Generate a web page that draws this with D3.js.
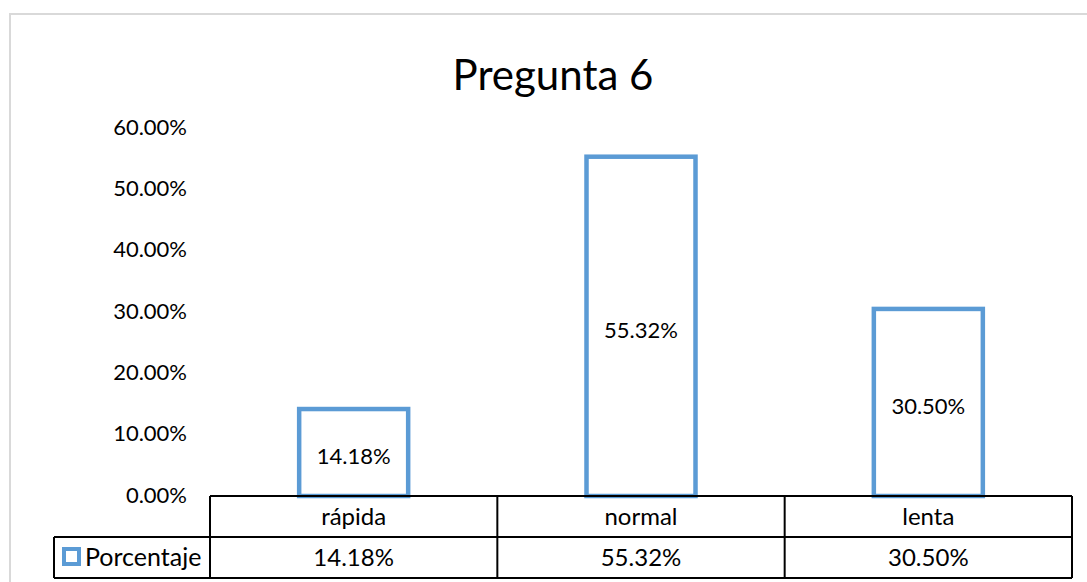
<!DOCTYPE html>
<html>
<head>
<meta charset="utf-8">
<title>Pregunta 6</title>
<script src="https://d3js.org/d3.v7.min.js"></script>
<style>
  body { margin: 0; background: #fff; }
  text { font-family: Lato, "Open Sans", sans-serif; fill: #000; }
</style>
</head>
<body>
<svg id="chart" width="1087" height="582"></svg>
<script>
var categories = ["rápida", "normal", "lenta"];
var values = [14.18, 55.32, 30.50];
var yTicks = [0, 10, 20, 30, 40, 50, 60];
var seriesName = "Porcentaje";

var svg = d3.select("#chart"),
    plotLeft = 210, plotRight = 1072, plotTop = 128, plotBottom = 496,
    rowH = 41;

// outer chart border
svg.append("rect")
    .attr("x", 10).attr("y", 14)
    .attr("width", 1100).attr("height", 600)
    .attr("fill", "none")
    .attr("stroke", "#d9d9d9")
    .attr("stroke-width", 2);

svg.append("text")
    .attr("x", 553).attr("y", 90)
    .attr("text-anchor", "middle")
    .style("font-size", "42px")
    .text("Pregunta 6");

var x = d3.scaleBand().domain(categories).range([plotLeft, plotRight]);
var y = d3.scaleLinear().domain([0, 60]).range([plotBottom, plotTop]);

// y tick labels
svg.append("g").selectAll("text")
    .data(yTicks)
  .enter().append("text")
    .attr("x", 187)
    .attr("y", function(d) { return y(d); })
    .attr("dy", "0.3em")
    .attr("text-anchor", "end")
    .style("font-size", "22px")
    .text(function(d) { return d.toFixed(2) + "%"; });

// bars
var barW = 109;
svg.append("g").selectAll("rect")
    .data(values)
  .enter().append("rect")
    .attr("x", function(d, i) { return x(categories[i]) + x.bandwidth() / 2 - barW / 2; })
    .attr("y", function(d) { return y(d); })
    .attr("width", barW)
    .attr("height", function(d) { return y(0) - y(d); })
    .attr("fill", "#fff")
    .attr("stroke", "#5b9bd5")
    .attr("stroke-width", 4.5);

// data labels
svg.append("g").selectAll("text")
    .data(values)
  .enter().append("text")
    .attr("x", function(d, i) { return x(categories[i]) + x.bandwidth() / 2; })
    .attr("y", function(d) { return (y(d) + y(0)) / 2 + 4; })
    .attr("dy", "0.35em")
    .attr("text-anchor", "middle")
    .style("font-size", "22px")
    .text(function(d) { return d.toFixed(2) + "%"; });

// data table
var t = svg.append("g")
    .attr("fill", "none")
    .attr("stroke", "#000")
    .attr("stroke-width", 2);
t.append("line").attr("x1", plotLeft).attr("x2", plotRight).attr("y1", plotBottom).attr("y2", plotBottom);
t.append("line").attr("x1", 54).attr("x2", plotRight).attr("y1", plotBottom + rowH).attr("y2", plotBottom + rowH);
t.append("line").attr("x1", 54).attr("x2", plotRight).attr("y1", plotBottom + 2 * rowH).attr("y2", plotBottom + 2 * rowH);
t.append("line").attr("x1", 54).attr("x2", 54).attr("y1", plotBottom + rowH).attr("y2", plotBottom + 2 * rowH);
t.selectAll(".v")
    .data(categories.map(function(c) { return x(c); }).concat([plotRight]))
  .enter().append("line")
    .attr("x1", function(d) { return d; }).attr("x2", function(d) { return d; })
    .attr("y1", plotBottom).attr("y2", plotBottom + 2 * rowH);

svg.append("g").selectAll("text")
    .data(categories)
  .enter().append("text")
    .attr("x", function(d) { return x(d) + x.bandwidth() / 2; })
    .attr("y", plotBottom + rowH / 2)
    .attr("dy", "0.35em")
    .attr("text-anchor", "middle")
    .style("font-size", "24px")
    .text(function(d) { return d; });

svg.append("g").selectAll("text")
    .data(values)
  .enter().append("text")
    .attr("x", function(d, i) { return x(categories[i]) + x.bandwidth() / 2; })
    .attr("y", plotBottom + rowH * 1.5)
    .attr("dy", "0.35em")
    .attr("text-anchor", "middle")
    .style("font-size", "24px")
    .text(function(d) { return d.toFixed(2) + "%"; });

// legend key in table
svg.append("rect")
    .attr("x", 64).attr("y", 549)
    .attr("width", 15).attr("height", 15)
    .attr("fill", "#fff")
    .attr("stroke", "#5b9bd5")
    .attr("stroke-width", 4);
svg.append("text")
    .attr("x", 85).attr("y", plotBottom + rowH * 1.5)
    .attr("dy", "0.35em")
    .style("font-size", "25px")
    .text(seriesName);
</script>
</body>
</html>
